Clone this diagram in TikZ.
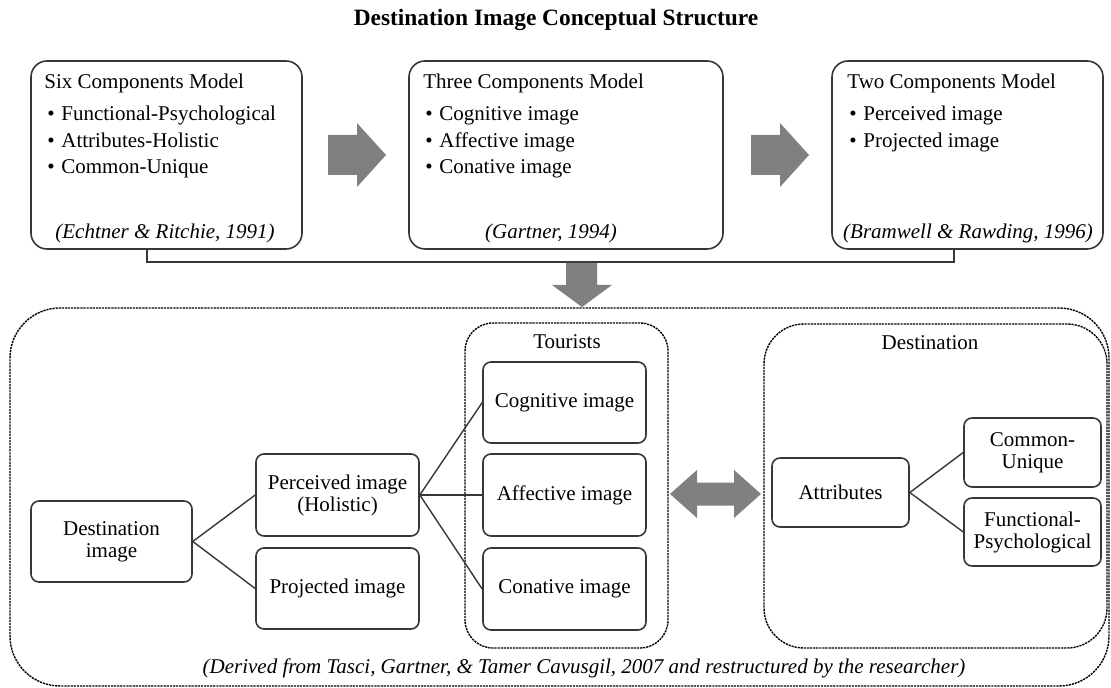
\documentclass[tikz,border=0pt]{standalone}
\usepackage{fontspec}
\setmainfont{Liberation Serif}
\usetikzlibrary{fit,calc}
\definecolor{agray}{RGB}{128,128,128}
\definecolor{lgray}{RGB}{55,55,55}
\begin{document}
\begin{tikzpicture}[x=0.5pt,y=-0.5pt,
  every node/.style={font=\fontsize{10.5}{11}\selectfont, text=black},
  topbox/.style={draw=lgray, line width=0.8pt, rounded corners=8pt, inner sep=0pt},
  sbox/.style={draw=lgray, line width=0.8pt, rounded corners=4pt, inner sep=0pt, align=center},
  dbox/.style={draw=black, line width=0.7pt, dash pattern=on 1.1pt off 0.45pt, inner sep=0pt},
  conn/.style={draw=lgray, line width=0.7pt},
  blockarrow/.style={fill=agray},
  lefttext/.style={anchor=west, inner sep=0pt, text height=7.5pt, text depth=2.3pt},
  cite/.style={font=\fontsize{10.5}{12}\selectfont\itshape, inner sep=0pt},
]
\useasboundingbox (0,0) rectangle (1111,688);

% title
\node[font=\fontsize{11.7}{13}\selectfont\bfseries] (title) at (556,20) {Destination Image Conceptual Structure};

% top boxes
\node[topbox, fit={(31,61)(302,249)}] (b1) {};
\node[topbox, fit={(409,61)(723,249)}] (b2) {};
\node[topbox, fit={(832,61)(1103,249)}] (b3) {};

\node[lefttext] (b1t) at (44,83) {Six Components Model};
\node[lefttext] (b1p1) at (47,115) {\textbullet};
\node[lefttext] (b1l1) at (61,115) {Functional-Psychological};
\node[lefttext] (b1p2) at (47,142) {\textbullet};
\node[lefttext] (b1l2) at (61,142) {Attributes-Holistic};
\node[lefttext] (b1p3) at (47,168) {\textbullet};
\node[lefttext] (b1l3) at (61,168) {Common-Unique};
\node[cite] (b1c) at (165,233) {(Echtner \& Ritchie, 1991)};

\node[lefttext] (b2t) at (423,83) {Three Components Model};
\node[lefttext] (b2p1) at (425,115) {\textbullet};
\node[lefttext] (b2l1) at (439,115) {Cognitive image};
\node[lefttext] (b2p2) at (425,142) {\textbullet};
\node[lefttext] (b2l2) at (439,142) {Affective image};
\node[lefttext] (b2p3) at (425,168) {\textbullet};
\node[lefttext] (b2l3) at (439,168) {Conative image};
\node[cite] (b2c) at (551,233) {(Gartner, 1994)};

\node[lefttext] (b3t) at (847,83) {Two Components Model};
\node[lefttext] (b3p1) at (849,115) {\textbullet};
\node[lefttext] (b3l1) at (863,115) {Perceived image};
\node[lefttext] (b3p2) at (849,142) {\textbullet};
\node[lefttext] (b3l2) at (863,142) {Projected image};
\node[cite] (b3c) at (968,233) {(Bramwell \& Rawding, 1996)};

% bracket
\coordinate (k1) at (147,262);
\coordinate (k3) at (954,262);
\draw[conn] (b1.south -| k1) -- (k1) -- (k3) -- (b3.south -| k3);

% block arrows
\fill[blockarrow] (328,135) -- (357,135) -- (357,123) -- (386,155) -- (357,187) -- (357,175) -- (328,175) -- cycle;
\fill[blockarrow] (751,135) -- (780,135) -- (780,123) -- (809,155) -- (780,187) -- (780,175) -- (751,175) -- cycle;
\fill[blockarrow] (566,263) -- (597,263) -- (597,285) -- (612,285) -- (582,307) -- (552,285) -- (566,285) -- cycle;

% dotted containers
\node[dbox, rounded corners=25pt, fit={(10,308)(1109,686)}] (outer) {};
\node[dbox, rounded corners=14pt, fit={(465,323)(668,648)}] (tour) {};
\node[dbox, rounded corners=20pt, fit={(764,324)(1107,648)}] (dest) {};
\node (tl) at (567,342) {Tourists};
\node (dl) at (930,343) {Destination};

% double arrow
\fill[blockarrow] (670,494) -- (697,470) -- (697,482.5) -- (734,482.5) -- (734,470) -- (761,494) -- (734,518) -- (734,505.5) -- (697,505.5) -- (697,518) -- cycle;

% bottom boxes
\node[sbox, minimum width=80.5pt, minimum height=40.5pt] (dimg) at (111.5,541.5) {Destination\\image};
\node[sbox, minimum width=81.5pt, minimum height=41pt] (perc) at (337.5,495) {Perceived image\\(Holistic)};
\node[sbox, minimum width=81.5pt, minimum height=40.5pt] (proj) at (337.5,588.5) {Projected image};
\node[sbox, minimum width=81.5pt, minimum height=40.5pt] (cog) at (564.5,402.5) {Cognitive image};
\node[sbox, minimum width=81.5pt, minimum height=41pt] (aff) at (564.5,495) {Affective image};
\node[sbox, minimum width=81.5pt, minimum height=41pt] (con) at (564.5,589) {Conative image};
\node[sbox, minimum width=68.5pt, minimum height=34.5pt] (attr) at (840.5,492.5) {Attributes};
\node[sbox, minimum width=68.5pt, minimum height=34.5pt] (cu) at (1032.5,452.5) {Common-\\Unique};
\node[sbox, minimum width=68.5pt, minimum height=34pt] (fp) at (1032.5,532) {Functional-\\Psychological};

\draw[conn] (dimg.east) -- (perc.west);
\draw[conn] (dimg.east) -- (proj.west);
\draw[conn] (perc.east) -- (cog.west);
\draw[conn] (perc.east) -- (aff.west);
\draw[conn] (perc.east) -- (con.west);
\draw[conn] (attr.east) -- (cu.west);
\draw[conn] (attr.east) -- (fp.west);

\node[cite] (c4) at (584,668) {(Derived from Tasci, Gartner, \& Tamer Cavusgil, 2007 and restructured by the researcher)};
\end{tikzpicture}
\end{document}
